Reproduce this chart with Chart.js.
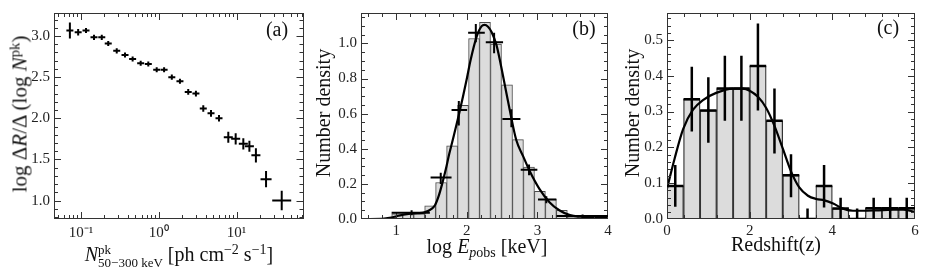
<!DOCTYPE html>
<html>
<head>
<meta charset="utf-8">
<script src="https://cdn.jsdelivr.net/npm/chart.js@4.4.1/dist/chart.umd.min.js"></script>
<style>
body { margin: 0; width: 926px; height: 280px; position: relative; background: #fff; overflow: hidden; font-family: "Liberation Serif", serif; color: #111; }
canvas { position: absolute; top: 0; }
.lbl { position: absolute; white-space: nowrap; font-size: 20px; line-height: 1; z-index: 2; }
.rot { transform: translate(-50%, -50%) rotate(-90deg); }
.ctr { transform: translate(-50%, -50%); }
sup { font-size: 70%; vertical-align: 0; position: relative; top: -0.5em; }
sub { font-size: 70%; vertical-align: 0; position: relative; top: 0.3em; }
.ss { display: inline-block; vertical-align: -6px; font-size: 13px; line-height: 13px; }
.ss span { display: block; }
</style>
</head>
<body>
<canvas id="chartA" width="310" height="280" style="left:0"></canvas>
<canvas id="chartB" width="305" height="280" style="left:310px"></canvas>
<canvas id="chartC" width="311" height="280" style="left:615px"></canvas>

<div class="lbl rot" style="left:20px; top:114px; font-size:21px;">log Δ<i>R</i>/Δ (log <i>N</i><sup>pk</sup>)</div>
<div class="lbl ctr" style="left:179px; top:256px;"><i>N</i><span class="ss"><span>pk</span><span>50−300 keV</span></span> [ph cm<sup>−2</sup> s<sup>−1</sup>]</div>
<div class="lbl ctr" style="left:277px; top:29px;">(a)</div>

<div class="lbl rot" style="left:323px; top:113px;">Number density</div>
<div class="lbl ctr" style="left:487px; top:246px;">log <i>E</i><sub><i>p</i>obs</sub> [keV]</div>
<div class="lbl ctr" style="left:584px; top:28px;">(b)</div>

<div class="lbl rot" style="left:632px; top:113px;">Number density</div>
<div class="lbl ctr" style="left:776px; top:244px;">Redshift(z)</div>
<div class="lbl ctr" style="left:888px; top:27px;">(c)</div>

<script>
// ---- panel (a): rate vs peak flux ----
const aFlux = [0.072, 0.092, 0.116, 0.147, 0.185, 0.224, 0.288, 0.368, 0.461, 0.585, 0.733, 0.94, 1.17, 1.47,
               1.87, 2.39, 3.0, 3.73, 4.69, 5.94, 7.82, 9.73, 12.2, 14.6, 17.7, 23.9, 38.0];
const aRate = [3.067, 3.047, 3.067, 2.984, 2.984, 2.91, 2.82, 2.77, 2.72, 2.67, 2.66, 2.59, 2.59, 2.50,
               2.45, 2.32, 2.30, 2.12, 2.06, 2.00, 1.77, 1.75, 1.69, 1.66, 1.55, 1.26, 1.00];
const aFluxErr = [0.045, 0.045, 0.045, 0.045, 0.045, 0.045, 0.045, 0.045, 0.045, 0.045, 0.045, 0.045, 0.045, 0.045,
                  0.045, 0.045, 0.045, 0.045, 0.045, 0.045, 0.058, 0.058, 0.058, 0.058, 0.058, 0.071, 0.122]; // dex
const aRateErr = [0.098, 0.04, 0.031, 0.031, 0.031, 0.031, 0.031, 0.031, 0.031, 0.031, 0.031, 0.031, 0.031, 0.031,
                  0.031, 0.035, 0.035, 0.04, 0.04, 0.04, 0.068, 0.068, 0.068, 0.068, 0.087, 0.098, 0.118];
const aTickValues = [0.1, 1, 10];
const aTickLabels = ['10⁻¹', '10⁰', '10¹'];

// ---- panel (b): log Epobs ----
const bCenters = [1.013, 1.168, 1.324, 1.480, 1.635, 1.791, 1.946, 2.102, 2.257, 2.413, 2.569, 2.724,
                  2.880, 3.035, 3.191, 3.346, 3.502, 3.657, 3.813];
const bHeights = [0.03, 0.03, 0.03, 0.075, 0.208, 0.416, 0.647, 1.028, 1.12, 0.996, 0.764, 0.452,
                  0.295, 0.158, 0.113, 0.05, 0.012, 0.006, 0.006];
const bPtX = [1.217, 1.63, 1.886, 2.127, 2.386, 2.631, 2.881, 3.126, 3.64];
const bPtXLo = [0.934, 1.486, 1.783, 2.018, 2.268, 2.504, 2.763, 3.008, 3.27];
const bPtXHi = [1.476, 1.783, 2.004, 2.254, 2.513, 2.759, 2.999, 3.268, 4.05];
const bPtY = [0.035, 0.236, 0.621, 1.061, 1.006, 0.570, 0.280, 0.111, 0.017];
const bPtYLo = [0.022, 0.199, 0.532, 1.006, 0.944, 0.523, 0.249, 0.09, 0.008];
const bPtYHi = [0.05, 0.263, 0.672, 1.111, 1.061, 0.625, 0.31, 0.13, 0.026];
const bCurveX = [0.5, 0.8, 0.93, 1.0, 1.1, 1.2, 1.3, 1.4, 1.5, 1.55, 1.6, 1.65, 1.7, 1.75, 1.8, 1.9, 2.0, 2.05,
                 2.14, 2.21, 2.25, 2.3, 2.35, 2.42, 2.51, 2.61, 2.70, 2.80, 2.89, 3.03, 3.17, 3.31, 3.46, 3.6, 3.8, 4.0];
const bCurveY = [0, 0.001, 0.008, 0.015, 0.025, 0.031, 0.033, 0.038, 0.058, 0.08, 0.13, 0.2, 0.28, 0.37, 0.45,
                 0.616, 0.8, 0.9, 1.04, 1.098, 1.105, 1.095, 1.065, 0.99, 0.82, 0.616, 0.45, 0.355, 0.273, 0.17,
                 0.096, 0.05, 0.022, 0.013, 0.01, 0.01];

// ---- panel (c): redshift ----
const cCenters = [0.2, 0.6, 1.0, 1.4, 1.8, 2.2, 2.6, 3.0, 3.4, 3.8, 4.2, 4.6, 5.0, 5.4, 5.8];
const cHeights = [0.092, 0.334, 0.303, 0.364, 0.364, 0.427, 0.274, 0.122, 0, 0.092, 0.029, 0, 0.03, 0.03, 0.03];
const cErrLo = [0.034, 0.244, 0.213, 0.274, 0.274, 0.303, 0.183, 0.061, 0, 0.032, 0, 0, 0, 0, 0];
const cErrHi = [0.151, 0.425, 0.396, 0.456, 0.456, 0.546, 0.364, 0.181, 0.029, 0.151, 0.059, 0.029, 0.059, 0.059, 0.059];
const cCurveX = [0, 0.185, 0.39, 0.63, 0.87, 1.19, 1.6, 1.84, 2.0, 2.2, 2.4, 2.6, 2.8, 3.0, 3.2, 3.41, 3.61,
                 3.81, 4.02, 4.26, 4.5, 4.74, 5.06, 5.47, 5.71, 6.0];
const cCurveY = [0.085, 0.169, 0.251, 0.305, 0.332, 0.352, 0.364, 0.364, 0.358, 0.341, 0.31, 0.26, 0.197, 0.133,
                 0.088, 0.065, 0.056, 0.052, 0.043, 0.029, 0.023, 0.023, 0.024, 0.026, 0.026, 0.02];

const serif = "'Liberation Serif', serif";
const tickFont = { family: serif, size: 15 };
const frameColor = '#333';

// frame on all four sides with inward major/minor ticks
const frameTicks = {
    id: 'frameTicks',
    afterDatasetsDraw(chart, args, opts) {
        const { ctx, chartArea: ca, scales } = chart;
        ctx.save();
        ctx.strokeStyle = frameColor;
        ctx.lineWidth = 1;
        ctx.strokeRect(Math.round(ca.left) + 0.5, Math.round(ca.top) + 0.5,
                       Math.round(ca.width) - 1, Math.round(ca.height) - 1);
        const mark = (scale, values, len) => {
            values.forEach(v => {
                const p = Math.round(scale.getPixelForValue(v)) + 0.5;
                ctx.beginPath();
                if (scale.isHorizontal()) {
                    if (p < ca.left || p > ca.right) return;
                    ctx.moveTo(p, ca.bottom); ctx.lineTo(p, ca.bottom - len);
                    ctx.moveTo(p, ca.top); ctx.lineTo(p, ca.top + len);
                } else {
                    if (p < ca.top || p > ca.bottom) return;
                    ctx.moveTo(ca.left, p); ctx.lineTo(ca.left + len, p);
                    ctx.moveTo(ca.right, p); ctx.lineTo(ca.right - len, p);
                }
                ctx.stroke();
            });
        };
        const minorLinear = (scale, step) => {
            const out = [];
            for (let v = Math.ceil(scale.min / step) * step; v <= scale.max + 1e-9; v += step) out.push(v);
            return out;
        };
        const minorLog = (scale) => {
            const out = [];
            for (let e = Math.floor(Math.log10(scale.min)); e <= Math.ceil(Math.log10(scale.max)); e++) {
                for (let k = 2; k <= 9; k++) out.push(k * Math.pow(10, e));
            }
            return out.filter(v => v >= scale.min && v <= scale.max);
        };
        const x = scales.x, y = scales.y;
        mark(x, opts.xMinor ? minorLinear(x, opts.xMinor) : minorLog(x), 4);
        mark(y, minorLinear(y, opts.yMinor), 4);
        mark(x, x.ticks.map(t => t.value), 7);
        mark(y, y.ticks.map(t => t.value), 7);
        ctx.restore();
    }
};

// crosses: horizontal and vertical error bars
const errorBars = {
    id: 'errorBars',
    afterDatasetsDraw(chart) {
        const { ctx, chartArea: ca, scales: { x, y } } = chart;
        chart.data.datasets.forEach(ds => {
            if (!ds.errors) return;
            ctx.save();
            ctx.beginPath();
            ctx.rect(ca.left, ca.top, ca.width, ca.height);
            ctx.clip();
            ctx.strokeStyle = '#000';
            ctx.lineWidth = ds.errorWidth || 2;
            ds.errors.forEach(e => {
                ctx.beginPath();
                if (e.xMin !== e.xMax) {
                    ctx.moveTo(x.getPixelForValue(e.xMin), y.getPixelForValue(e.y));
                    ctx.lineTo(x.getPixelForValue(e.xMax), y.getPixelForValue(e.y));
                }
                ctx.moveTo(x.getPixelForValue(e.x), y.getPixelForValue(e.yMin));
                ctx.lineTo(x.getPixelForValue(e.x), y.getPixelForValue(e.yMax));
                ctx.stroke();
            });
            ctx.restore();
        });
    }
};

function baseScales(xOpts, yOpts, yWidth) {
    const common = {
        grid: { display: false, drawTicks: false },
        border: { display: false }
    };
    return {
        x: Object.assign({}, common, {
            offset: false,
            afterFit: s => { s.height = 61; }
        }, xOpts),
        y: Object.assign({}, common, {
            afterFit: s => { s.width = yWidth; }
        }, yOpts)
    };
}

const noUi = { legend: { display: false }, tooltip: { enabled: false } };

// panel (a)
new Chart(document.getElementById('chartA'), {
    type: 'scatter',
    data: {
        datasets: [{
            data: aFlux.map((x, i) => ({ x, y: aRate[i] })),
            pointRadius: 0,
            errorWidth: 2,
            errors: aFlux.map((x, i) => ({
                x, y: aRate[i],
                xMin: x / Math.pow(10, aFluxErr[i]), xMax: x * Math.pow(10, aFluxErr[i]),
                yMin: aRate[i] - aRateErr[i], yMax: aRate[i] + aRateErr[i]
            }))
        }]
    },
    options: {
        responsive: false,
        animation: false,
        layout: { padding: { top: 7.5, right: 6.5, left: 0, bottom: 0 } },
        plugins: Object.assign({ frameTicks: { yMinor: 0.1 } }, noUi),
        scales: baseScales(
            {
                type: 'logarithmic', min: 0.045, max: 72.4,
                afterBuildTicks: s => { s.ticks = aTickValues.map(v => ({ value: v })); },
                ticks: { font: tickFont, color: '#222', padding: 5, maxRotation: 0, autoSkip: false,
                         callback: (v, i) => aTickLabels[i] }
            },
            {
                min: 0.776, max: 3.28,
                ticks: { font: tickFont, color: '#222', padding: 4, includeBounds: false, stepSize: 0.5,
                         callback: v => v.toFixed(1) }
            },
            54)
    },
    plugins: [frameTicks, errorBars]
});

// panel (b)
new Chart(document.getElementById('chartB'), {
    type: 'bar',
    data: {
        datasets: [
            {
                type: 'scatter',
                data: bPtX.map((x, i) => ({ x, y: bPtY[i] })),
                pointRadius: 0,
                errorWidth: 2,
                errors: bPtX.map((x, i) => ({
                    x, y: bPtY[i], xMin: bPtXLo[i], xMax: bPtXHi[i], yMin: bPtYLo[i], yMax: bPtYHi[i]
                }))
            },
            {
                type: 'line',
                data: bCurveX.map((x, i) => ({ x, y: bCurveY[i] })),
                borderColor: '#000',
                borderWidth: 2.2,
                pointRadius: 0,
                cubicInterpolationMode: 'monotone',
                order: 1
            },
            {
                type: 'bar',
                data: bCenters.map((x, i) => ({ x, y: bHeights[i] })),
                backgroundColor: '#dcdcdc',
                borderColor: '#4a4a4a',
                borderWidth: 1,
                borderSkipped: false,
                barPercentage: 1,
                categoryPercentage: 1,
                order: 2
            }
        ]
    },
    options: {
        responsive: false,
        animation: false,
        layout: { padding: { top: 7.5, right: 7, left: 0, bottom: 0 } },
        plugins: Object.assign({ frameTicks: { xMinor: 0.2, yMinor: 0.05 } }, noUi),
        scales: baseScales(
            {
                type: 'linear', min: 0.5, max: 4,
                ticks: { font: tickFont, color: '#222', padding: 3, maxRotation: 0, autoSkip: false,
                         stepSize: 1, includeBounds: false }
            },
            {
                min: 0, max: 1.173,
                ticks: { font: tickFont, color: '#222', padding: 4, includeBounds: false, stepSize: 0.2,
                         callback: v => v.toFixed(1) }
            },
            51)
    },
    plugins: [frameTicks, errorBars]
});

// panel (c)
new Chart(document.getElementById('chartC'), {
    type: 'bar',
    data: {
        datasets: [
            {
                type: 'scatter',
                data: cCenters.map((x, i) => ({ x, y: cHeights[i] })),
                pointRadius: 0,
                errorWidth: 2.5,
                errors: cCenters.map((x, i) => ({
                    x, y: cHeights[i], xMin: x - 0.2, xMax: x + 0.2, yMin: cErrLo[i], yMax: cErrHi[i]
                }))
            },
            {
                type: 'line',
                data: cCurveX.map((x, i) => ({ x, y: cCurveY[i] })),
                borderColor: '#000',
                borderWidth: 2.2,
                pointRadius: 0,
                cubicInterpolationMode: 'monotone',
                order: 1
            },
            {
                type: 'bar',
                data: cCenters.map((x, i) => ({ x, y: cHeights[i] })),
                backgroundColor: '#dcdcdc',
                borderColor: '#333',
                borderWidth: 1.3,
                borderSkipped: false,
                barPercentage: 1,
                categoryPercentage: 1,
                order: 2
            }
        ]
    },
    options: {
        responsive: false,
        animation: false,
        layout: { padding: { top: 7.5, right: 11, left: 0, bottom: 0 } },
        plugins: Object.assign({ frameTicks: { xMinor: 0.4, yMinor: 0.02 } }, noUi),
        scales: baseScales(
            {
                type: 'linear', min: 0, max: 6,
                ticks: { font: tickFont, color: '#222', padding: 3, maxRotation: 0, autoSkip: false, stepSize: 2 }
            },
            {
                min: 0, max: 0.575,
                ticks: { font: tickFont, color: '#222', padding: 4, includeBounds: false, stepSize: 0.1,
                         callback: v => v.toFixed(1) }
            },
            52)
    },
    plugins: [frameTicks, errorBars]
});
</script>
</body>
</html>
